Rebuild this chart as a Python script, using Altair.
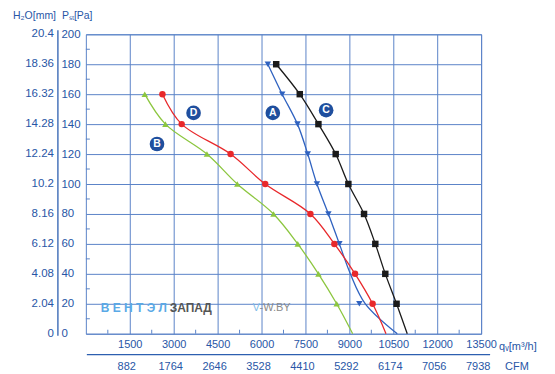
import altair as alt
import pandas as pd

# ---------------- data ----------------
q_ticks = [1500, 3000, 4500, 6000, 7500, 9000, 10500, 12000, 13500]
cfm_labels = ["882", "1764", "2646", "3528", "4410", "5292", "6174", "7056", "7938"]
p_ticks = [0, 20, 40, 60, 80, 100, 120, 140, 160, 180, 200]
h2o_labels = ["0", "2.04", "4.08", "6.12", "8.16", "10.2", "12.24", "14.28", "16.32", "18.36", "20.4"]
minor_p = [10, 30, 50, 70, 90, 110, 130, 150, 170, 190]
minor_q = [750, 2250, 3750, 5250, 6750, 8250, 9750, 11250, 12750]

# curve A (blue, triangle-down)
a_line_q = [6215, 6706, 7228, 7579, 7892, 8284, 8659, 9034, 9545, 10636]
a_line_p = [180, 160, 140, 120, 100, 80, 60, 40, 20, 0]
a_mark_q = [6215, 6706, 7228, 7579, 7892, 8284, 8659, 9341]
a_mark_p = [180, 160, 140, 120, 100, 80, 60, 20]
# curve B (green, triangle-up)
b_line_q = [2011, 2717, 4135, 5172, 6409, 7237, 7943, 8567, 9113]
b_line_p = [160, 140, 120, 100, 80, 60, 40, 20, 0]
b_mark_q = [2011, 2717, 4135, 5172, 6409, 7237, 7943, 8567]
b_mark_p = [160, 140, 120, 100, 80, 60, 40, 20]
# curve C (black, square)
c_line_q = [6501, 7306, 7943, 8533, 8966, 9501, 9886, 10227, 10612, 10977]
c_line_p = [180, 160, 140, 120, 100, 80, 60, 40, 20, 0]
c_mark_q = [6501, 7306, 7943, 8533, 8966, 9501, 9886, 10227, 10612]
c_mark_p = [180, 160, 140, 120, 100, 80, 60, 40, 20]
# curve D (red, circle)
d_line_q = [2615, 3273, 4943, 6126, 7670, 8488, 9194, 9794, 10251]
d_line_p = [160, 140, 120, 100, 80, 60, 40, 20, 0]
d_mark_q = [2615, 3273, 4943, 6126, 7670, 8488, 9194, 9794]
d_mark_p = [160, 140, 120, 100, 80, 60, 40, 20]

series = ["A", "B", "C", "D"]
series_colors = ["#2f62c0", "#8cc63f", "#1a1a1a", "#e8282b"]
series_shapes = ["triangle-down", "triangle-up", "square", "circle"]

label_letters = ["A", "B", "C", "D"]
label_q = [6385, 2430, 8206, 3679]
label_p = [147.5, 126.7, 149.3, 147.5]

# ---------------- tables ----------------
def long(name, qs, ps):
    return pd.DataFrame({"s": name, "q": qs, "p": ps})

lines_df = pd.concat([long("A", a_line_q, a_line_p), long("B", b_line_q, b_line_p),
                      long("C", c_line_q, c_line_p), long("D", d_line_q, d_line_p)])
marks_df = pd.concat([long("A", a_mark_q, a_mark_p), long("B", b_mark_q, b_mark_p),
                      long("C", c_mark_q, c_mark_p), long("D", d_mark_q, d_mark_p)])
lbl_df = pd.DataFrame({"t": label_letters, "q": label_q, "p": label_p})
h2o_df = pd.DataFrame({"p": p_ticks, "t": h2o_labels})
cfm_df = pd.DataFrame({"q": q_ticks, "t": cfm_labels})
minp_df = pd.DataFrame({"p": minor_p})
minq_df = pd.DataFrame({"q": minor_q})
one = pd.DataFrame({"k": [0]})

W, H = 396, 300
FONT = "Liberation Sans"
LBL = "#2856a6"
GRID = "#5b84c8"

xs = alt.Scale(domain=[0, 13500], nice=False, zero=False)
ys = alt.Scale(domain=[0, 200], nice=False, zero=False)
x_axis = alt.Axis(values=q_ticks, format="d", grid=True, gridColor=GRID, gridWidth=1, gridOpacity=1,
                  domain=False, ticks=False, labelPadding=5, labelFlush=False,
                  labelFont=FONT, labelFontSize=11, labelColor=LBL, title=None)
y_axis = alt.Axis(values=p_ticks, format="d", grid=True, gridColor=GRID, gridWidth=1, gridOpacity=1,
                  domain=False, ticks=False, labelAlign="left", labelPadding=25,
                  labelFont=FONT, labelFontSize=11.5, labelColor=LBL, title=None)
X = alt.X("q:Q", scale=xs, axis=x_axis)
Y = alt.Y("p:Q", scale=ys, axis=y_axis)
color = alt.Color("s:N", scale=alt.Scale(domain=series, range=series_colors), legend=None)
shape = alt.Shape("s:N", scale=alt.Scale(domain=series, range=series_shapes), legend=None)

lines = alt.Chart(lines_df).mark_line(strokeWidth=1.3, interpolate="catmull-rom").encode(
    x=X, y=Y, color=color, order="q:Q")

points = alt.Chart(marks_df).mark_point(filled=True, opacity=1, size=42).encode(
    x=X, y=Y, color=color, shape=shape)

badges = alt.Chart(lbl_df).mark_circle(size=215, color="#1f4f9e", opacity=1).encode(x=X, y=Y)
badge_txt = alt.Chart(lbl_df).mark_text(color="white", fontWeight="bold", fontSize=10.5, font=FONT,
                                        baseline="middle").encode(x=X, y=Y, text="t:N")

h2o = alt.Chart(h2o_df).mark_text(align="right", baseline="middle", fontSize=11.5, font=FONT,
                                  color=LBL).encode(x=alt.value(-32), y=Y, text="t:N")

cfm = alt.Chart(cfm_df).mark_text(align="center", baseline="middle", fontSize=11, font=FONT,
                                  color=LBL, dx=-3).encode(x=X, y=alt.value(333), text="t:N")

vsep = alt.Chart(one).mark_rule(color="#2d5fb0", strokeWidth=1.3).encode(
    x=alt.value(-28), y=alt.value(-4), y2=alt.value(302))
hsep = alt.Chart(one).mark_rule(color="#2d5fb0", strokeWidth=1.3).encode(
    x=alt.value(1), x2=alt.value(405), y=alt.value(321))

minp = alt.Chart(minp_df).mark_rule(color=GRID, strokeWidth=1).encode(
    x=alt.value(0), x2=alt.value(4), y=Y)
minq = alt.Chart(minq_df).mark_rule(color=GRID, strokeWidth=1).encode(
    x=X, y=alt.value(300), y2=alt.value(296))

def txt(s, x, y, col=LBL, size=11.5, weight="normal", align="left"):
    return alt.Chart(one).mark_text(align=align, baseline="middle", fontSize=size, font=FONT,
                                    color=col, fontWeight=weight).encode(
        x=alt.value(x), y=alt.value(y), text=alt.value(s))

headers = [
    txt("H₂O[mm]", -73, -18, size=10.5),
    txt("Pₛₜ[Pa]", -24, -18, size=10.5),
    txt("qᵥ[m³/h]", 414, 313, size=11),
    txt("CFM", 420, 333, size=11),
    txt("В Е Н Т Э Л", 15, 274, col="#5aa9e6", size=12, weight="bold"),
    txt("ЗАПАД", 84, 274, col="#555555", size=12, weight="bold"),
    txt("V", 167, 274, col="#7fbde9", size=11),
    txt("-W.BY", 174, 274, col="#8a8a8a", size=11),
]

chart = alt.layer(lines, minp, minq, points, badges, badge_txt, h2o, cfm, vsep, hsep, *headers).properties(
    width=W, height=H,
    autosize=alt.AutoSizeParams(type="none"),
    padding={"left": 78, "top": 26, "right": 66, "bottom": 38},
    background="white",
).configure_view(stroke=GRID, strokeWidth=1)

chart.save("out.html", embed_options={"renderer": "svg", "actions": False})
